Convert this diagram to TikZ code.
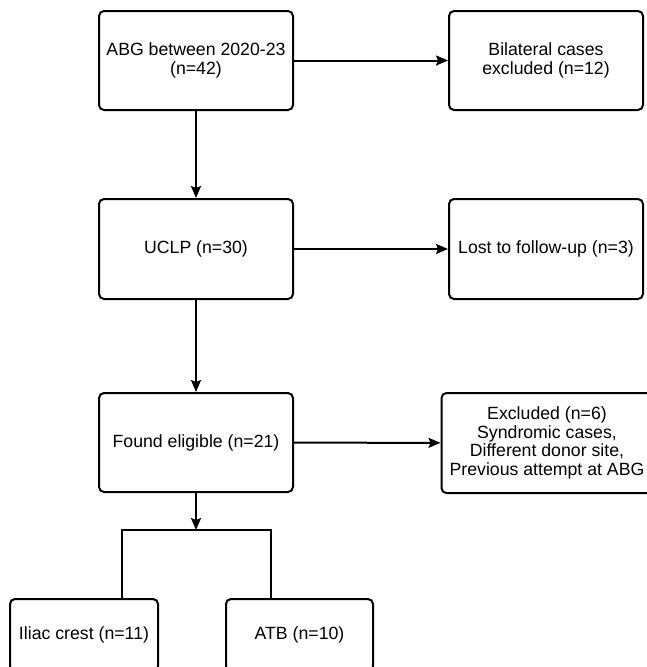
\documentclass[tikz,border=0pt]{standalone}
\usepackage{fontspec}
\setmainfont{Liberation Sans}
\usetikzlibrary{arrows.meta,positioning}
\begin{document}
\begin{tikzpicture}[x=1pt,y=-1pt,line width=2pt,box/.style={draw,rounded corners=5pt,align=center,minimum width=194pt,minimum height=99pt,inner sep=2pt,font=\fontsize{17.7}{19.5}\selectfont},arr/.style={-{Stealth[length=12pt,width=10pt,inset=2pt]}}]
\useasboundingbox (0,0) rectangle (647,667);
\clip (0,0) rectangle (647,667);
\node[box] (abg) at (196,60.5) {ABG between 2020-23\\(n=42)};
\node[box] (bilat) at (546,60.5) {Bilateral cases\\excluded (n=12)};
\node[box,minimum height=100pt] (uclp) at (196,249) {UCLP (n=30)};
\node[box,minimum height=100pt] (lost) at (546,249) {Lost to follow-up (n=3)};
\node[box] (found) at (196,442.5) {Found eligible (n=21)};
\node[box,minimum width=211pt,minimum height=100pt,font=\fontsize{17.7}{18.5}\selectfont] (excl) at (547,443) {Excluded (n=6)\\Syndromic cases,\\Different donor site,\\Previous attempt at ABG};
\node[box,minimum width=148pt,minimum height=72pt] (iliac) at (84,635) {Iliac crest (n=11)};
\node[box,minimum width=147pt,minimum height=72pt] (atb) at (299.5,635) {ATB (n=10)};
\coordinate (split) at (196,530);
\coordinate (lt) at (122,530);
\coordinate (rt) at (271,530);
\draw[arr](abg)--(bilat);\draw[arr](abg)--(uclp);\draw[arr](uclp)--(lost);\draw[arr](uclp)--(found);\draw[arr](found)--(excl);\draw[arr](found)--(split);
\draw (iliac.north -| lt)--(lt)--(rt)--(atb.north -| rt);
\end{tikzpicture}
\end{document}
